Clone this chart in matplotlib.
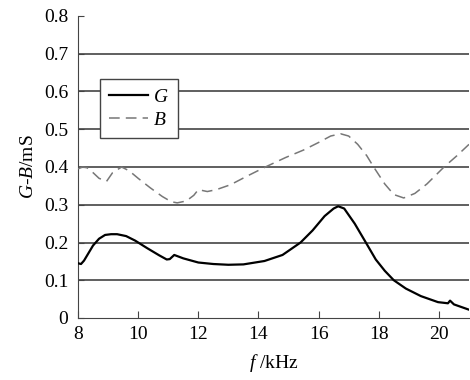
import matplotlib.pyplot as plt

plt.rcParams['font.family'] = 'Liberation Serif'
plt.rcParams['mathtext.fontset'] = 'custom'
plt.rcParams['mathtext.rm'] = 'Liberation Serif'
plt.rcParams['mathtext.it'] = 'Liberation Serif:italic'

# G curve (kHz, mS)
g_f = [8.0, 8.1, 8.2, 8.35, 8.5, 8.7, 8.9, 9.1, 9.3, 9.6, 9.9, 10.3, 10.7, 10.95, 11.05,
       11.2, 11.5, 12.0, 12.5, 13.0, 13.5, 14.2, 14.8, 15.4, 15.8, 16.2, 16.5, 16.65,
       16.85, 17.2, 17.57, 17.9, 18.2, 18.5, 18.9, 19.4, 19.97, 20.3, 20.37, 20.5, 21.0]
g_v = [0.145, 0.143, 0.152, 0.172, 0.192, 0.21, 0.22, 0.222, 0.222, 0.217, 0.205, 0.185,
       0.166, 0.155, 0.156, 0.167, 0.158, 0.147, 0.143, 0.141, 0.142, 0.151, 0.167, 0.2,
       0.232, 0.27, 0.29, 0.296, 0.29, 0.25, 0.2, 0.155, 0.125, 0.1, 0.078, 0.058, 0.042,
       0.039, 0.046, 0.036, 0.022]

# B curve (kHz, mS)
b_f = [8.0, 8.15, 8.3, 8.5, 8.7, 8.95, 9.15, 9.45, 9.7, 10.0, 10.4, 10.8, 11.1, 11.3,
       11.6, 11.85, 12.0, 12.3, 12.6, 13.07, 13.6, 14.23, 14.9, 15.5, 16.0, 16.4, 16.73,
       17.0, 17.3, 17.6, 17.83, 18.2, 18.5, 18.83, 19.2, 19.6, 20.17, 20.6, 21.0]
b_v = [0.395, 0.4, 0.398, 0.385, 0.37, 0.362, 0.385, 0.4, 0.39, 0.37, 0.345, 0.322,
       0.308, 0.305, 0.31, 0.325, 0.34, 0.335, 0.34, 0.353, 0.375, 0.4, 0.425, 0.445,
       0.465, 0.482, 0.488, 0.482, 0.46, 0.43, 0.4, 0.355, 0.327, 0.318, 0.33, 0.355,
       0.4, 0.43, 0.46]

fig = plt.figure(figsize=(4.7, 3.8), dpi=100)
ax = fig.add_axes([78 / 470, 62 / 380, 391 / 470, 302 / 380])

for yv in [0.1, 0.2, 0.3, 0.4, 0.5, 0.6, 0.7]:
    ax.axhline(yv, color='#444444', lw=1.2, zorder=1)

ax.plot(g_f, g_v, color='black', lw=1.6, label='$G$', zorder=3)
ax.plot(b_f, b_v, color='#777777', lw=1.1, dashes=(7, 4), label='$B$', zorder=3)

ax.set_xlim(8, 21)
ax.set_ylim(0, 0.8)
ax.set_xticks([8, 10, 12, 14, 16, 18, 20])
ax.set_yticks([0, 0.1, 0.2, 0.3, 0.4, 0.5, 0.6, 0.7, 0.8])
ax.set_yticklabels(['0', '0.1', '0.2', '0.3', '0.4', '0.5', '0.6', '0.7', '0.8'])
ax.spines['top'].set_visible(False)
ax.spines['right'].set_visible(False)
ax.spines['left'].set_color('#444444')
ax.spines['bottom'].set_color('#444444')
ax.tick_params(axis='x', direction='in', length=5, labelsize=14, pad=6, color='#444444')
ax.tick_params(axis='y', direction='in', length=4, labelsize=14, pad=7, color='#444444')
ax.set_xlabel('$f$ /kHz', fontsize=14, labelpad=6)
ax.set_ylabel('$G$-$B$/mS', fontsize=14, labelpad=5)

leg = ax.legend(loc='upper left', bbox_to_anchor=(0.056, 0.79), borderaxespad=0,
                fontsize=14, frameon=True, fancybox=False, edgecolor='#444444',
                framealpha=1, handlelength=2.0, handletextpad=0.3, borderpad=0.45,
                labelspacing=0.3)
leg.get_frame().set_linewidth(1.0)

fig.savefig('out.png', dpi=100)
